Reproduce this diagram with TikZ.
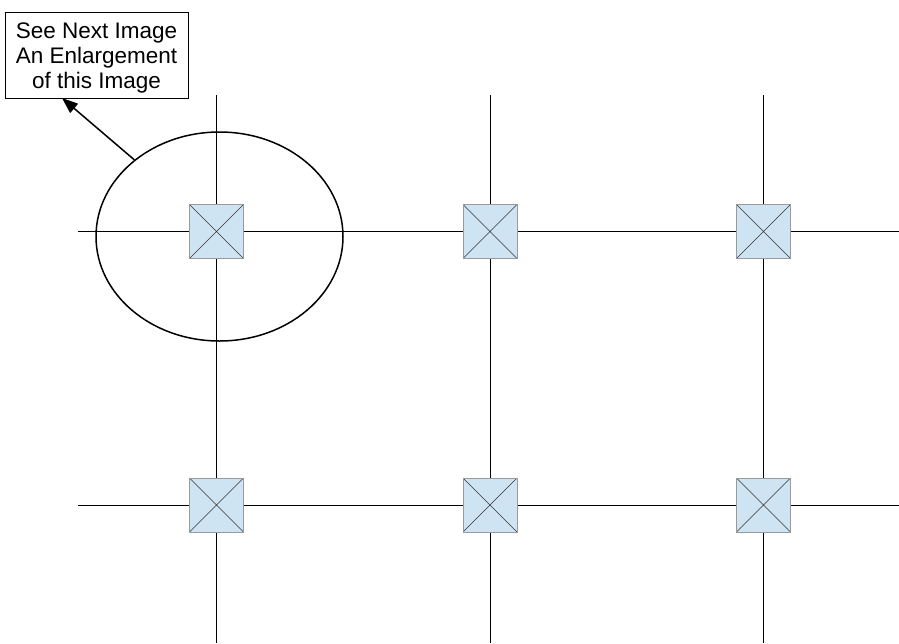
\documentclass[tikz,border=0pt]{standalone}
\usepackage{fontspec}
\setmainfont{Liberation Sans}
\usetikzlibrary{shapes.geometric,arrows.meta}
\definecolor{sqfill}{HTML}{CFE4F2}
\definecolor{sqborder}{HTML}{9A9A9A}
\begin{document}
\begin{tikzpicture}[x=1pt,y=-1pt,
  crossbox/.style={draw=sqborder,line width=1pt,fill=sqfill,minimum size=54pt,inner sep=0pt,
    path picture={\draw[line width=0.6pt,black!80]
      (path picture bounding box.north west)--(path picture bounding box.south east)
      (path picture bounding box.north east)--(path picture bounding box.south west);}},
  wire/.style={draw=black,line width=0.8pt},
  callout/.style={draw=black,line width=0.8pt,fill=white,minimum width=183pt,minimum height=86pt,
    inner sep=0pt},
  callouttext/.style={inner sep=0pt,align=center,font=\fontsize{22.5}{25}\selectfont}]
\useasboundingbox (0,0) rectangle (899,643);
\fill[white] (0,0) rectangle (899,643);
% squares
\node[crossbox] (s11) at (216.5,231.5) {};
\node[crossbox] (s12) at (490,231.5) {};
\node[crossbox] (s13) at (763.5,231.5) {};
\node[crossbox] (s21) at (216.5,505) {};
\node[crossbox] (s22) at (490,505) {};
\node[crossbox] (s23) at (763.5,505) {};
% free ends
\coordinate (l1) at (78,231.5);
\coordinate (r1) at (899,231.5);
\coordinate (l2) at (78,505);
\coordinate (r2) at (899,505);
\coordinate (t1) at (216.5,95);
\coordinate (t2) at (490,95);
\coordinate (t3) at (763.5,95);
\coordinate (b1) at (216.5,643);
\coordinate (b2) at (490,643);
\coordinate (b3) at (763.5,643);
% wires
\draw[wire] (l1) -- (s11) -- (s12) -- (s13) -- (r1);
\draw[wire] (l2) -- (s21) -- (s22) -- (s23) -- (r2);
\draw[wire] (t1) -- (s11) -- (s21) -- (b1);
\draw[wire] (t2) -- (s12) -- (s22) -- (b2);
\draw[wire] (t3) -- (s13) -- (s23) -- (b3);
% redraw squares on top
\node[crossbox] at (s11) {};
\node[crossbox] at (s12) {};
\node[crossbox] at (s13) {};
\node[crossbox] at (s21) {};
\node[crossbox] at (s22) {};
\node[crossbox] at (s23) {};
% ellipse
\node[ellipse,draw=black,line width=1.5pt,minimum width=247pt,minimum height=209pt,inner sep=0pt] (ell) at (219.5,236.5) {};
% callout
\node[callout] (box) at (96.5,55) {};
\node[callouttext] (boxtext) at (96.5,57.5) {See Next Image\\An Enlargement\\of this Image};
\coordinate (tip) at (62,98);
\draw[line width=1.5pt,-{Triangle[length=16pt,width=12pt]}] (ell.138.5) -- (tip);
\end{tikzpicture}
\end{document}
